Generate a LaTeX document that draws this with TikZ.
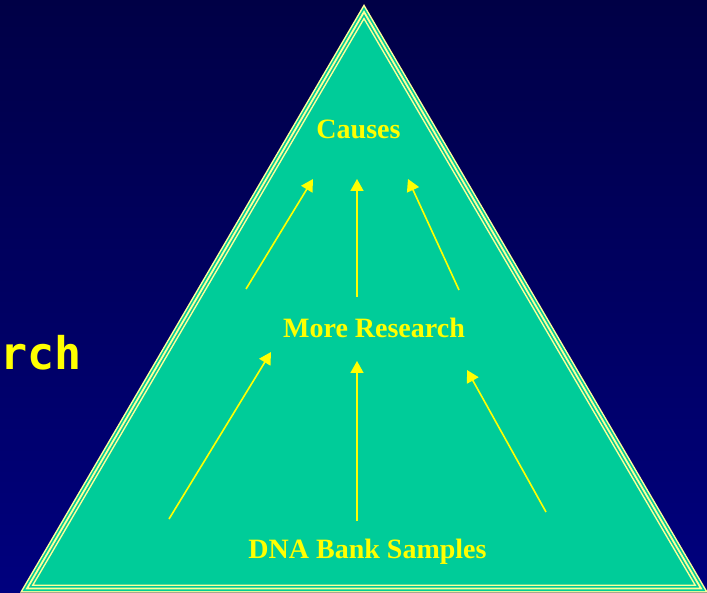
\documentclass[tikz,border=0pt]{standalone}
\usepackage{fontspec}
\setmainfont{Liberation Serif}
\newfontfamily\monofont{DejaVu Sans Mono}
\usetikzlibrary{arrows.meta}
\definecolor{bgtop}{HTML}{000046}
\definecolor{bgbot}{HTML}{00007E}
\definecolor{tri}{HTML}{00CC99}
\definecolor{rim}{HTML}{FFFF99}
\definecolor{ylw}{HTML}{FFFF00}
\begin{document}
\begin{tikzpicture}[x=1pt,y=-1pt,
  lbl/.style={text=ylw,font=\bfseries\fontsize{28}{30}\selectfont,inner sep=0pt,anchor=base},
  arr/.style={draw=ylw,line width=1.6pt,-{Triangle[length=12pt,width=13pt]}},
  rimline/.style={line join=miter,miter limit=20}]
\shade[top color=bgtop,bottom color=bgbot] (0,0) rectangle (707,593);
\useasboundingbox (0,0) rectangle (707,593);
% triangle
\coordinate (apex) at (364,12);
\coordinate (bl) at (27,588.5);
\coordinate (br) at (701,588.5);
\fill[tri] (apex) -- (bl) -- (br) -- cycle;
\draw[rimline,draw=rim,line width=8pt] (apex) -- (bl) -- (br) -- cycle;
\draw[rimline,draw=tri,line width=5pt] (apex) -- (bl) -- (br) -- cycle;
\draw[rimline,draw=rim,line width=1.8pt] (apex) -- (bl) -- (br) -- cycle;
% texts
\node[lbl] (causes) at (358.5,139) {Causes};
\node[lbl] (research) at (374,338) {More Research};
\node[lbl] (dna) at (367.5,558) {DNA Bank Samples};
\node[text=ylw,font=\monofont\bfseries\fontsize{45}{47}\selectfont,inner sep=0pt,anchor=base west] (rch) at (0,370) {rch};
% arrow end points
\coordinate (u1s) at (246,289); \coordinate (u1e) at (313,179);
\coordinate (u2s) at (357,297); \coordinate (u2e) at (357,179);
\coordinate (u3s) at (459,290); \coordinate (u3e) at (408,179);
\coordinate (l1s) at (169,519); \coordinate (l1e) at (271,352);
\coordinate (l2s) at (357,521); \coordinate (l2e) at (357,361);
\coordinate (l3s) at (546,512); \coordinate (l3e) at (467,370);
\draw[arr] (u1s) -- (u1e);
\draw[arr] (u2s) -- (u2e);
\draw[arr] (u3s) -- (u3e);
\draw[arr] (l1s) -- (l1e);
\draw[arr] (l2s) -- (l2e);
\draw[arr] (l3s) -- (l3e);
\end{tikzpicture}
\end{document}
